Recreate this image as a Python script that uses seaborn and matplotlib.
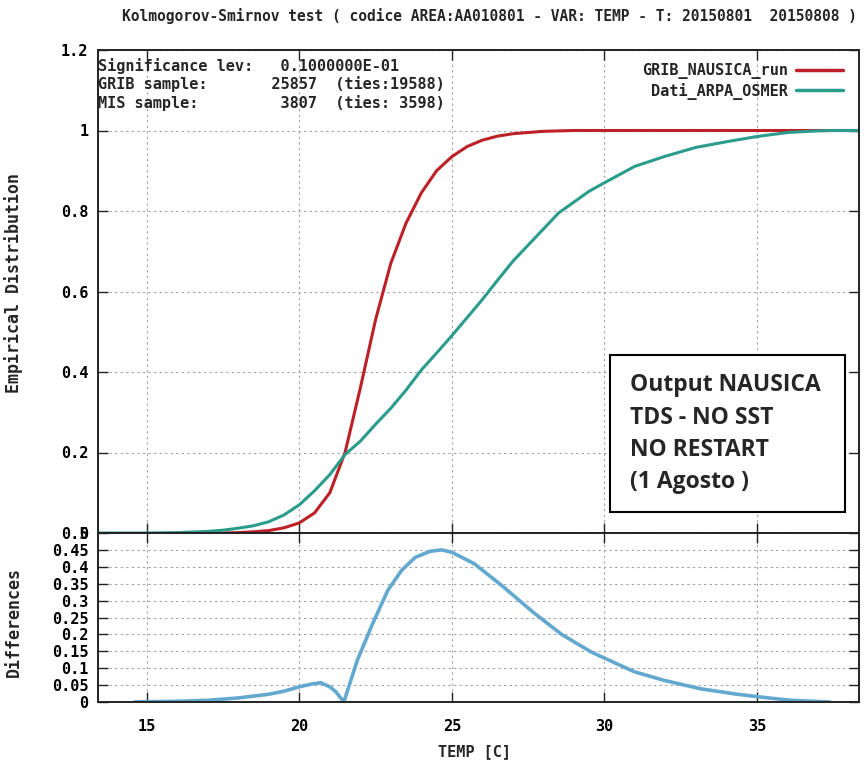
import matplotlib
matplotlib.use("Agg")
import matplotlib.pyplot as plt
import seaborn as sns
import pandas as pd
from matplotlib.patches import Rectangle
from matplotlib.lines import Line2D

# Empirical CDF of the model temperatures
grib_temp = [17.5, 18.0, 18.5, 19.0, 19.5, 20.0, 20.5, 21.0, 21.5, 22.0, 22.5,
             23.0, 23.5, 24.0, 24.5, 25.0, 25.5, 26.0, 26.5, 27.0, 28.0, 29.0,
             30.0, 35.0, 38.35]
grib_cdf = [0.0, 0.001, 0.003, 0.006, 0.013, 0.025, 0.05, 0.10, 0.20, 0.36, 0.53,
            0.67, 0.77, 0.845, 0.90, 0.935, 0.96, 0.976, 0.986, 0.992, 0.998, 1.0,
            1.0, 1.0, 1.0]

# Empirical CDF of the station observations
obs_temp = [13.4, 15.0, 16.0, 17.0, 17.5, 18.0, 18.5, 19.0, 19.5, 20.0, 20.5,
            21.0, 21.5, 22.0, 22.5, 23.0, 23.5, 24.0, 24.5, 25.0, 25.5, 26.0,
            26.5, 27.0, 27.5, 28.0, 28.5, 29.0, 29.5, 30.0, 31.0, 32.0, 33.0,
            34.0, 35.0, 36.0, 37.0, 37.5, 38.35]
obs_cdf = [0.0, 0.0, 0.001, 0.004, 0.007, 0.012, 0.018, 0.028, 0.045, 0.07, 0.105,
           0.145, 0.195, 0.228, 0.27, 0.31, 0.355, 0.405, 0.447, 0.49, 0.535, 0.58,
           0.628, 0.675, 0.715, 0.755, 0.795, 0.822, 0.849, 0.87, 0.911, 0.936, 0.958,
           0.972, 0.985, 0.995, 0.999, 1.0, 1.0]

# Absolute difference between the two distributions
diff_temp = [14.6, 15.0, 16.0, 17.0, 18.0, 19.0, 19.5, 20.0, 20.4, 20.7, 21.0,
             21.2, 21.46, 21.9, 22.4, 22.9, 23.35, 23.8, 24.3, 24.67, 25.0, 25.74,
             26.7, 27.66, 28.6, 29.57, 30.0, 31.0, 31.96, 33.16, 34.35, 35.1, 36.1,
             37.4]
diff_val = [0.0, 0.001, 0.002, 0.005, 0.012, 0.023, 0.032, 0.045, 0.053, 0.057, 0.045,
            0.03, 0.0, 0.123, 0.231, 0.33, 0.389, 0.428, 0.446, 0.45, 0.443, 0.409,
            0.34, 0.266, 0.20, 0.148, 0.13, 0.089, 0.064, 0.039, 0.023, 0.015, 0.005,
            0.0]

series_labels = ["GRIB_NAUSICA_run", "Dati_ARPA_OSMER"]
x_ticks = [15, 20, 25, 30, 35]
cdf_ticks = [0.0, 0.2, 0.4, 0.6, 0.8, 1.0, 1.2]
cdf_tick_labels = ["0", "0.2", "0.4", "0.6", "0.8", "1", "1.2"]
diff_ticks = [0.0, 0.05, 0.1, 0.15, 0.2, 0.25, 0.3, 0.35, 0.4, 0.45, 0.5]
diff_tick_labels = ["0", "0.05", "0.1", "0.15", "0.2", "0.25", "0.3", "0.35",
                    "0.4", "0.45", "0.5"]

title = ("Kolmogorov-Smirnov test ( codice AREA:AA010801 - VAR: TEMP - "
         "T: 20150801  20150808 )")
stats_lines = ["Significance lev:   0.1000000E-01",
               "GRIB sample:       25857  (ties:19588)",
               "MIS sample:         3807  (ties: 3598)"]
note_lines = ["Output NAUSICA", "TDS - NO SST", "NO RESTART", "(1 Agosto )"]

sns.set_theme(style="white")
plt.rcParams["font.family"] = ["DejaVu Sans Mono"]
plt.rcParams["font.weight"] = "bold"
plt.rcParams["axes.labelweight"] = "bold"

RED = "#bd2027"
TEAL = "#2a9c8c"
BLUE = "#62a8cf"
INK = "#222222"
FS = 11

W, H = 866, 762
fig = plt.figure(figsize=(W / 100, H / 100), dpi=100)


def fx(px):
    return px / W


def fy(py):
    return 1 - py / H


left, right, top, mid, bottom = 98, 859, 50, 533, 702
ax1 = fig.add_axes([fx(left), fy(mid), fx(right - left), (mid - top) / H])
ax2 = fig.add_axes([fx(left), fy(bottom), fx(right - left), (bottom - mid) / H])

grib = pd.DataFrame({"temp": grib_temp, "cdf": grib_cdf})
obs = pd.DataFrame({"temp": obs_temp, "cdf": obs_cdf})
diff = pd.DataFrame({"temp": diff_temp, "d": diff_val})

sns.lineplot(data=grib, x="temp", y="cdf", ax=ax1, color=RED, linewidth=2.2,
             sort=False, legend=False)
sns.lineplot(data=obs, x="temp", y="cdf", ax=ax1, color=TEAL, linewidth=2.2,
             sort=False, legend=False)
sns.lineplot(data=diff, x="temp", y="d", ax=ax2, color=BLUE, linewidth=2.6,
             sort=False, legend=False)

xlim = (13.4, 38.35)
for ax in (ax1, ax2):
    ax.set_xlim(*xlim)
    ax.set_xticks(x_ticks)
    ax.grid(True, linestyle=(0, (2, 3)), color="#a0a0a0", linewidth=0.8)
    ax.tick_params(direction="in", length=7, width=1.0, color=INK,
                   top=True, right=True, bottom=True, left=True,
                   labelsize=FS, pad=7, labelcolor="black")
    for s in ax.spines.values():
        s.set_color(INK)
        s.set_linewidth(1.4)
    ax.set_facecolor("white")

ax1.set_ylim(0, 1.2)
ax1.set_yticks(cdf_ticks)
ax1.set_yticklabels(cdf_tick_labels)
ax1.set_xticklabels([])
ax1.set_xlabel("")
ax1.set_ylabel("")

ax2.set_ylim(0, 0.5)
ax2.set_yticks(diff_ticks)
ax2.set_yticklabels(diff_tick_labels)
ax2.set_xticklabels([str(t) for t in x_ticks])
ax2.tick_params(axis="x", pad=12)
ax2.set_xlabel("")
ax2.set_ylabel("")

fig.text(fx(14), fy(283), "Empirical Distribution", rotation=90,
         ha="center", va="center", fontsize=12)
fig.text(fx(14), fy(622), "Differences", rotation=90,
         ha="center", va="center", fontsize=12)
fig.text(fx(474), fy(752), "TEMP [C]", ha="center", va="center", fontsize=FS)
fig.text(fx(489), fy(16), title, ha="center", va="center", fontsize=10.5)

for i, line in enumerate(stats_lines):
    fig.text(fx(98), fy(66 + 18.5 * i), line, ha="left", va="center", fontsize=FS)

handles = [Line2D([], [], color=RED, linewidth=2.5),
           Line2D([], [], color=TEAL, linewidth=2.5)]
ax1.legend(handles, series_labels, loc="upper right",
           bbox_to_anchor=(fx(843), fy(63)), bbox_transform=fig.transFigure,
           frameon=False, markerfirst=False, handlelength=3.1,
           handletextpad=0.5, labelspacing=0.25, borderpad=0, borderaxespad=0,
           prop={"family": "DejaVu Sans Mono", "weight": "bold", "size": FS})

# Annotation box
box = Rectangle((fx(610), fy(512)), fx(845 - 610), (512 - 355) / H,
                transform=fig.transFigure, facecolor="white", edgecolor="black",
                linewidth=1.5, zorder=5)
fig.add_artist(box)
for i, line in enumerate(note_lines):
    fig.text(fx(630), fy(385 + 32.5 * i), line, ha="left", va="center",
             fontsize=16.5, fontweight="bold", family=["Open Sans", "DejaVu Sans"],
             zorder=6)

fig.savefig("out.png", dpi=100, facecolor="white")
